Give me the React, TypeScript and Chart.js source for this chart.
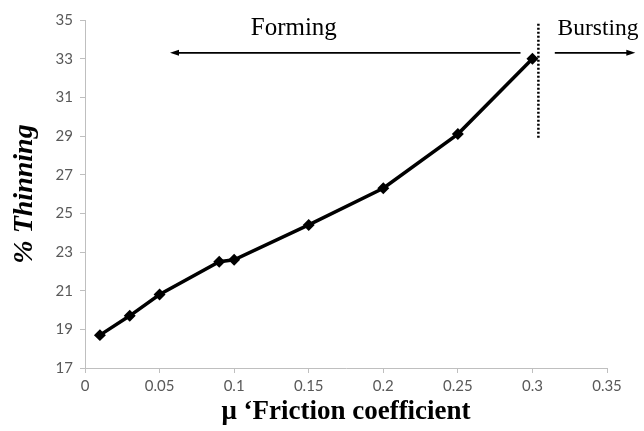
import React, { useEffect, useRef } from "react";
import { Chart, registerables } from "chart.js";

Chart.register(...registerables);

const frictionX = [0.01, 0.03, 0.05, 0.09, 0.1, 0.15, 0.2, 0.25, 0.3];
const thinningY = [18.7, 19.7, 20.8, 22.5, 22.6, 24.4, 26.3, 29.1, 33.0];

const dividerX = [0.304];
const dividerY = [28.8, 34.8];
const formingArrowX = [0.292, 0.057]; // from -> to (head)
const burstingArrowX = [0.315, 0.369];
const arrowY = [33.3];
const labelTexts = ["Forming", "Bursting"];
const labelX = [0.14, 0.344];
const labelY = [34.55];
const labelSizes = [25, 23.5];

const annotationPlugin = {
  id: "annot",
  afterDatasetsDraw(chart: any) {
    const { ctx, scales } = chart;
    const xs = scales.x;
    const ys = scales.y;
    ctx.save();
    ctx.strokeStyle = "#000";
    ctx.lineWidth = 2.5;
    ctx.setLineDash([2, 2]);
    ctx.beginPath();
    const dx = xs.getPixelForValue(dividerX[0]);
    ctx.moveTo(dx, ys.getPixelForValue(dividerY[1]));
    ctx.lineTo(dx, ys.getPixelForValue(dividerY[0]));
    ctx.stroke();
    ctx.setLineDash([]);

    const drawArrow = (x0: number, x1: number) => {
      const y = ys.getPixelForValue(arrowY[0]);
      const p0 = xs.getPixelForValue(x0);
      const p1 = xs.getPixelForValue(x1);
      const dir = p1 > p0 ? 1 : -1;
      ctx.strokeStyle = "#000";
      ctx.lineWidth = 1.8;
      ctx.beginPath();
      ctx.moveTo(p0, y);
      ctx.lineTo(p1 - dir * 6, y);
      ctx.stroke();
      ctx.fillStyle = "#000";
      ctx.beginPath();
      ctx.moveTo(p1, y);
      ctx.lineTo(p1 - dir * 9, y - 3);
      ctx.lineTo(p1 - dir * 9, y + 3);
      ctx.closePath();
      ctx.fill();
    };
    drawArrow(formingArrowX[0], formingArrowX[1]);
    drawArrow(burstingArrowX[0], burstingArrowX[1]);

    ctx.fillStyle = "#000";
    ctx.textAlign = "center";
    ctx.textBaseline = "middle";
    for (let i = 0; i < labelTexts.length; i++) {
      ctx.font = `${labelSizes[i]}px 'Liberation Serif', 'Times New Roman', serif`;
      ctx.fillText(labelTexts[i], xs.getPixelForValue(labelX[i]), ys.getPixelForValue(labelY[0]));
    }
    ctx.restore();
  },
};

export default function App() {
  const ref = useRef<HTMLCanvasElement>(null);
  useEffect(() => {
    if (!ref.current) return;
    const tickFont = { family: "'Liberation Sans Narrow', Lato, sans-serif", size: 15 };
    const chart = new Chart(ref.current, {
      type: "line",
      data: {
        datasets: [
          {
            data: frictionX.map((x, i) => ({ x, y: thinningY[i] })),
            borderColor: "#000",
            backgroundColor: "#000",
            borderWidth: 3.5,
            pointStyle: "rectRot",
            pointRadius: 3.5,
            pointHoverRadius: 3.5,
            tension: 0,
          },
        ],
      },
      options: {
        animation: false,
        responsive: false,
        plugins: { legend: { display: false }, tooltip: { enabled: false } },
        layout: { padding: { top: 20, right: 37, left: 0, bottom: 0 } },
        scales: {
          x: {
            type: "linear",
            min: 0,
            max: 0.35,
            ticks: {
              stepSize: 0.05,
              color: "#595959",
              font: tickFont,
              padding: 4,
              maxRotation: 0,
              callback: (v: any) => String(Number(Number(v).toFixed(2))),
            },
            grid: { drawOnChartArea: false, tickLength: 5, color: "#bfbfbf" },
            border: { color: "#bfbfbf", width: 1 },
            title: {
              display: true,
              text: "μ ‘Friction coefficient",
              color: "#000",
              font: { family: "'Liberation Serif', 'Times New Roman', serif", size: 27, weight: "bold" },
              padding: { top: 0, bottom: 3 },
            },
            afterFit: (s: any) => {
              s.height = 63;
            },
          },
          y: {
            min: 17,
            max: 35,
            ticks: { stepSize: 2, color: "#595959", font: tickFont, padding: 7 },
            grid: { drawOnChartArea: false, tickLength: 5, color: "#bfbfbf" },
            border: { color: "#bfbfbf", width: 1 },
            title: {
              display: true,
              text: "% Thinning",
              color: "#000",
              font: { family: "'Liberation Serif', 'Times New Roman', serif", size: 28, weight: "bold", style: "italic" },
              padding: { top: 8, bottom: 0 },
            },
            afterFit: (s: any) => {
              s.width = 85;
            },
          },
        },
      },
      plugins: [annotationPlugin],
    } as any);
    return () => chart.destroy();
  }, []);
  return (
    <div style={{ position: "fixed", left: 0, top: 0, width: 644, height: 431, background: "#fff" }}>
      <canvas ref={ref} width={644} height={431} style={{ display: "block" }} />
    </div>
  );
}
